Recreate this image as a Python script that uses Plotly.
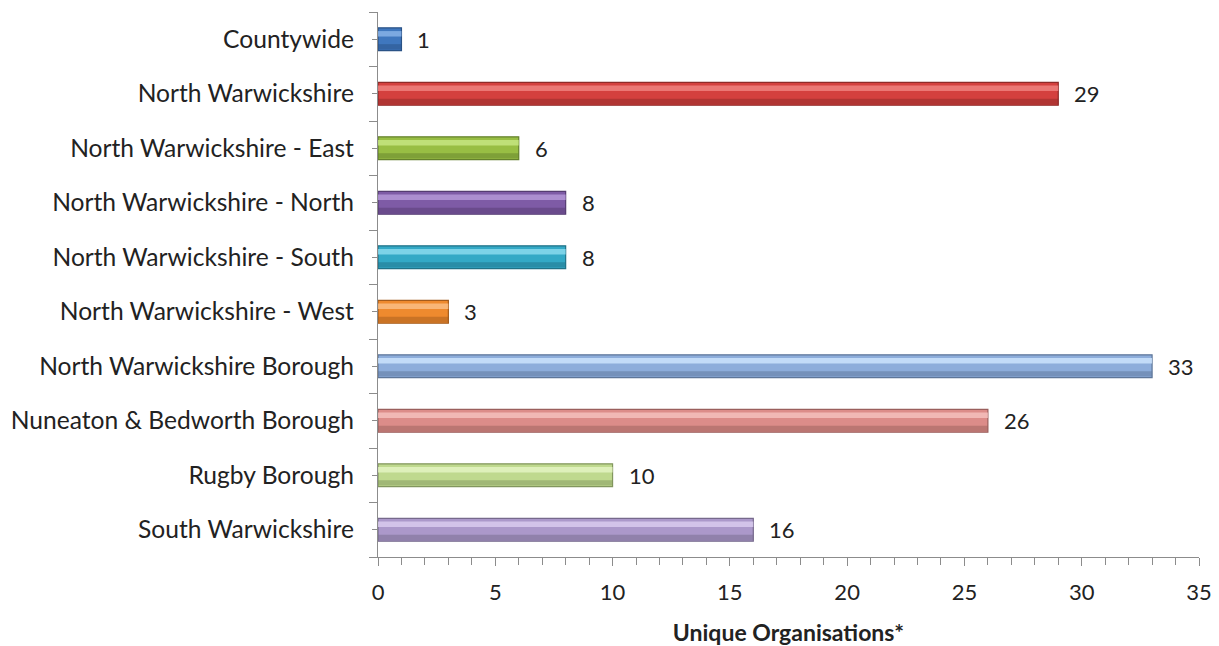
import plotly.graph_objects as go

# Organisation counts per area, listed top to bottom as displayed
areas = [
    "Countywide",
    "North Warwickshire",
    "North Warwickshire - East",
    "North Warwickshire - North",
    "North Warwickshire - South",
    "North Warwickshire - West",
    "North Warwickshire Borough",
    "Nuneaton & Bedworth Borough",
    "Rugby Borough",
    "South Warwickshire",
]
counts = [1, 29, 6, 8, 8, 3, 33, 26, 10, 16]

bar_colors = ["#3F77BE", "#D4403E", "#98BE44", "#7E5BA6", "#33A9C6",
              "#EF8A2E", "#8DADDB", "#DC8C89", "#BFD98E", "#AB98CA"]
edge_colors = ["#2A5286", "#8E2A28", "#64812C", "#553C72", "#207287",
               "#A55C1C", "#5E7699", "#9A5F5C", "#82965E", "#76698C"]
shine_colors = ["#8CB5EA", "#F08482", "#C9E886", "#B89BDB", "#8EDDF0",
                "#FBC18A", "#CFE6FF", "#F6C3C1", "#E6F5C6", "#DCCEF0"]

xticks = [0, 5, 10, 15, 20, 25, 30, 35]

FONT = "Lato, Open Sans, sans-serif"
AXIS_GREY = "#8C8C8C"

n = len(areas)
ypos = [n - 1 - i for i in range(n)]          # first category at the top
bounds = [i - 0.5 for i in range(n + 1)]

fig = go.Figure()

# main body of each bar
fig.add_trace(go.Bar(
    x=counts, y=ypos, orientation="h", width=0.42,
    marker=dict(color=bar_colors, line=dict(color=edge_colors, width=1.2)),
    hoverinfo="skip", showlegend=False,
))
# lighter highlight band along the upper part of each bar
fig.add_trace(go.Bar(
    x=counts, y=[p + 0.1 for p in ypos], orientation="h", width=0.1,
    marker=dict(color=shine_colors, opacity=0.8, line=dict(width=0)),
    hoverinfo="skip", showlegend=False,
))
# darker shading along the lower edge
fig.add_trace(go.Bar(
    x=counts, y=[p - 0.14 for p in ypos], orientation="h", width=0.1,
    marker=dict(color=edge_colors, opacity=0.5, line=dict(width=0)),
    hoverinfo="skip", showlegend=False,
))

# value labels just past the end of each bar
for c, p in zip(counts, ypos):
    fig.add_annotation(
        x=c, y=p, text=str(c), showarrow=False,
        xanchor="left", yanchor="middle", xshift=14,
        font=dict(family=FONT, size=22, color="#222222"),
    )

fig.update_layout(
    barmode="overlay",
    width=1219, height=646,
    margin=dict(l=378, r=20, t=12, b=89),
    plot_bgcolor="white", paper_bgcolor="white",
    font=dict(family=FONT, size=22, color="#222222"),
    xaxis=dict(
        range=[0, 35], tickvals=xticks, ticktext=[str(v) for v in xticks],
        showgrid=False, zeroline=False, automargin=False,
        showline=True, linecolor=AXIS_GREY, linewidth=1.3,
        ticks="outside", ticklen=8, tickcolor=AXIS_GREY, tickwidth=1.2,
        minor=dict(dtick=1, ticks="outside", ticklen=7, tickcolor=AXIS_GREY, tickwidth=1),
        tickfont=dict(size=22),
        ticklabelstandoff=7,
        title=dict(text="<b>Unique Organisations*</b>", font=dict(size=23), standoff=23),
    ),
    yaxis=dict(
        range=[-0.5, n - 0.5], tickvals=ypos, ticktext=areas,
        showgrid=False, zeroline=False, automargin=False,
        showline=True, linecolor=AXIS_GREY, linewidth=1.3,
        ticks="outside", ticklen=5, tickcolor=AXIS_GREY, tickwidth=1.2,
        minor=dict(tickvals=bounds, ticks="outside", ticklen=8, tickcolor=AXIS_GREY, tickwidth=1.2),
        tickfont=dict(size=24.6),
        ticklabelstandoff=13,
    ),
)

fig.write_html("out.html")
